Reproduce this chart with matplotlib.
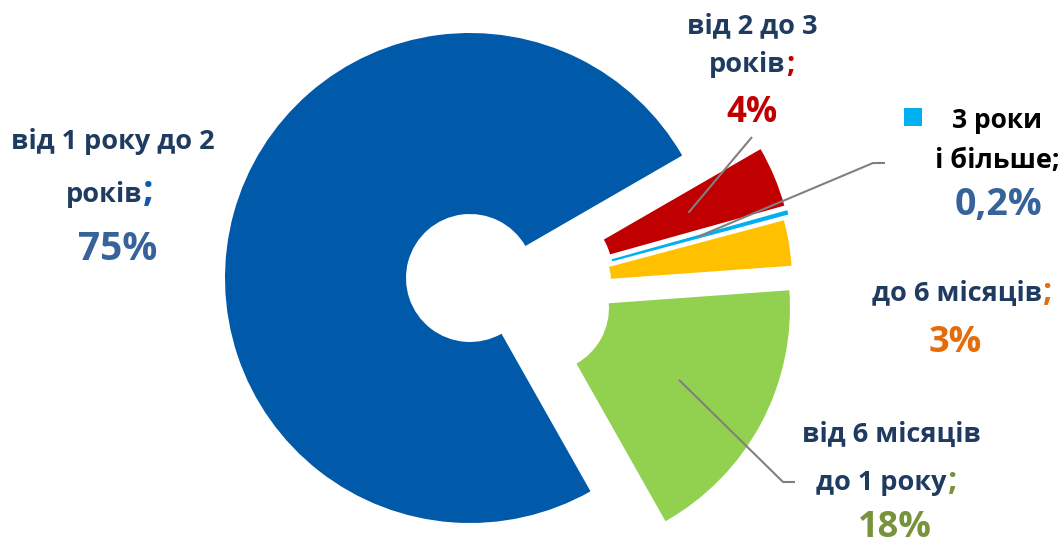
import numpy as np
import matplotlib
matplotlib.use("Agg")
import matplotlib.pyplot as plt

# ---- data ----
categories = ["від 1 року до 2 років", "від 6 місяців до 1 року", "до 6 місяців",
              "3 роки і більше", "від 2 до 3 років"]
shares = [75, 18, 3, 0.2, 4]
share_labels = ["75%", "18%", "3%", "0,2%", "4%"]
slice_colors = ["#0059A9", "#92D050", "#FFC000", "#00B0F0", "#C00000"]

# ---- layout ----
W, H = 1061, 544
CX, CY, R = 470, 278, 245
FONT = ["Open Sans", "DejaVu Sans"]
NAVY = "#1F3B60"
STEEL = "#36649A"
GRAY = "#808080"


def px(x, y):
    return ((x - CX) / R, (CY - y) / R)


fig = plt.figure(figsize=(W / 100, H / 100), dpi=100)
ax = fig.add_axes([0, 0, 1, 1])
wedges, _ = ax.pie(shares, colors=slice_colors, startangle=30, counterclock=True,
                   radius=1, wedgeprops=dict(width=1 - 64 / 245, linewidth=0))
shifts = [(0, 0), (0.306, -0.122), (0.315, -0.022), (0.33, 0.004), (0.32, 0.026)]
for w, s in zip(wedges, shifts):
    w.set_center(s)
wedges[3].set_edgecolor(slice_colors[3])
wedges[3].set_linewidth(1.0)


def anchor(i, frac=0.62):
    w = wedges[i]
    th = np.deg2rad((w.theta1 + w.theta2) / 2)
    cx, cy = w.center
    return cx + frac * np.cos(th), cy + frac * np.sin(th)


def leader(i, pts):
    a = anchor(i)
    xs = [a[0]] + [px(*p)[0] for p in pts]
    ys = [a[1]] + [px(*p)[1] for p in pts]
    ax.plot(xs, ys, color=GRAY, lw=1.5, solid_capstyle="butt")


leader(4, [(752, 137)])
leader(3, [(873, 163), (885, 163)])
leader(1, [(783, 482), (795, 482)])


def txt(x, y, s, size, color, ha="center"):
    ax.text(*px(x, y), s, ha=ha, va="baseline", fontsize=size, color=color,
            fontweight="bold", family=FONT)


LS = 19.5  # label font size

# label: 1-2 years
txt(113, 149, "від 1 року до 2", LS, NAVY)
txt(142, 202, "років", LS, NAVY, ha="right")
txt(143, 202, ";", 27, "#0F5AAE", ha="left")
txt(118, 260, share_labels[0], 28, STEEL)

# label: 2-3 years
txt(752, 33, "від 2 до 3", LS, NAVY)
txt(785, 72, "років", LS, NAVY, ha="right")
txt(786, 72, ";", 21, "#C00000", ha="left")
txt(752, 122, share_labels[4], 25, "#C00000")

# label: 3 years and more
ax.scatter(*px(913, 116.5), s=18 * 18 * 0.52, marker="s", color=slice_colors[3], linewidths=0)
txt(997, 128, "3 роки", 19, "black")
txt(997, 168, "і більше;", 19.5, "black")
txt(998, 215, share_labels[3], 27, STEEL)

# label: up to 6 months
txt(1042, 301, "до 6 місяців", LS, NAVY, ha="right")
txt(1043, 301, ";", 23, "#E46C0A", ha="left")
txt(955, 352, share_labels[2], 26, "#E46C0A")

# label: 6 months to 1 year
txt(891, 442, "від 6 місяців", LS, NAVY)
txt(947, 490, "до 1 року", LS, NAVY, ha="right")
txt(948, 490, ";", 23, "#77933C", ha="left")
txt(895, 537, share_labels[1], 26, "#77933C")

ax.set_xlim(px(0, 0)[0], px(W, 0)[0])
ax.set_ylim(px(0, H)[1], px(0, 0)[1])
ax.set_aspect("auto")
ax.axis("off")
fig.savefig("out.png", dpi=100)
